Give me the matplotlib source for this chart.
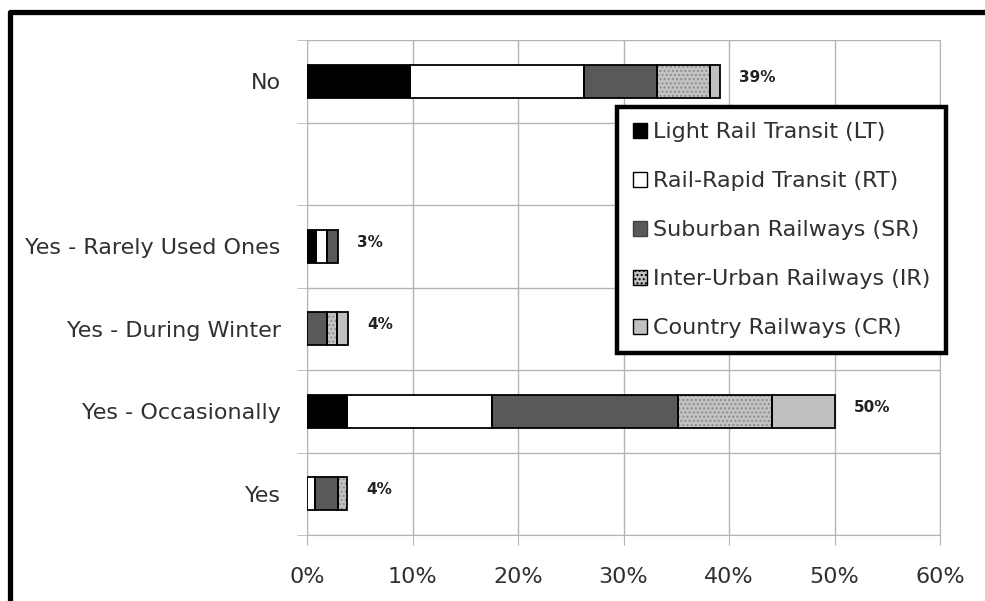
import matplotlib.pyplot as plt
from matplotlib.lines import Line2D
from matplotlib.patches import Patch
import numpy as np

# categories, top to bottom (the empty one is a blank slot in the chart)
categories = ['No', '', 'Yes - Rarely Used Ones', 'Yes - During Winter',
              'Yes - Occasionally', 'Yes']

series_names = ['Light Rail Transit (LT)', 'Rail-Rapid Transit (RT)',
                'Suburban Railways (SR)', 'Inter-Urban Railways (IR)',
                'Country Railways (CR)']

# percentages per category, same order as categories
lt = [9.8, 0.0, 0.9, 0.0, 3.8, 0.0]
rt = [16.5, 0.0, 1.0, 0.0, 13.7, 0.8]
sr = [6.9, 0.0, 1.0, 1.9, 17.7, 2.1]
ir = [5.0, 0.0, 0.0, 0.9, 8.9, 0.9]
cr = [0.9, 0.0, 0.0, 1.1, 5.9, 0.0]
totals = ['39%', '', '3%', '4%', '50%', '4%']

x_ticks = [0, 10, 20, 30, 40, 50, 60]

face_colors = ['#000000', '#ffffff', '#595959', '#c4c4c4', '#c0c0c0']
hatches = [None, None, None, '....', None]

text_color = '#303030'
grid_color = '#b4b4b4'
fsize = 16

fig = plt.figure(figsize=(9.85, 6.01), dpi=100)
ax = fig.add_axes([307 / 985, 1 - 535 / 601, 633 / 985, 495 / 601])

y = np.arange(len(categories))
left = np.zeros(len(categories))
for vals, color, hatch in zip([lt, rt, sr, ir, cr], face_colors, hatches):
    vals = np.array(vals)
    keep = vals > 0  # zero-width bars would leave a stray outline
    if hatch:
        ax.barh(y[keep], vals[keep], left=left[keep], height=0.4,
                color=color, hatch=hatch, edgecolor='#8c8c8c', linewidth=0,
                zorder=3)
    else:
        ax.barh(y[keep], vals[keep], left=left[keep], height=0.4,
                color=color, linewidth=0, zorder=3)
    ax.barh(y[keep], vals[keep], left=left[keep], height=0.4,
            facecolor='none', edgecolor='black', linewidth=1.3, zorder=4)
    left = left + vals

for i, lab in enumerate(totals):
    if lab:
        ax.annotate(lab, xy=(left[i], i), xytext=(14, 3),
                    textcoords='offset points', ha='left', va='center',
                    fontsize=11, fontweight='bold', color='#202020')

ax.set_xlim(0, 60)
ax.set_ylim(len(categories) - 0.5, -0.5)
ax.set_xticks(x_ticks)
ax.set_xticklabels([f'{t}%' for t in x_ticks])
ax.set_yticks(y)
ax.set_yticklabels(categories)
ax.set_yticks(np.arange(len(categories) + 1) - 0.5, minor=True)

ax.tick_params(axis='y', which='major', length=0, pad=19,
               labelsize=fsize, labelcolor=text_color)
ax.tick_params(axis='y', which='minor', length=7, color=grid_color)
ax.tick_params(axis='x', length=7, color=grid_color, pad=16,
               labelsize=fsize, labelcolor=text_color)

ax.grid(axis='x', color=grid_color, linewidth=1.0, zorder=0)
ax.grid(axis='y', which='minor', color=grid_color, linewidth=1.0, zorder=0)
ax.set_axisbelow(True)
ax.spines['top'].set_visible(False)
for side in ['left', 'bottom', 'right']:
    ax.spines[side].set_color(grid_color)

handles = [Patch(facecolor=c, edgecolor='black' if i != 2 else '#404040',
                 hatch=h, linewidth=1.0)
           for i, (c, h) in enumerate(zip(face_colors, hatches))]
leg = ax.legend(handles, series_names, loc='upper left',
                bbox_to_anchor=(0.49, 0.865), borderaxespad=0,
                fontsize=fsize, handlelength=0.65, handleheight=0.65,
                handletextpad=0.25, labelspacing=1.3, borderpad=0.7,
                fancybox=False, framealpha=1, labelcolor=text_color)
leg.get_frame().set_edgecolor('black')
leg.get_frame().set_linewidth(3.2)
leg.set_zorder(10)

# thick outer frame of the original picture (top and left visible)
fig.add_artist(Line2D([9.5 / 985, 9.5 / 985, 1.0],
                      [0.0, 1 - 12 / 601, 1 - 12 / 601],
                      transform=fig.transFigure, color='black',
                      linewidth=3.8, solid_joinstyle='round'))

fig.savefig('out.png', dpi=100)
